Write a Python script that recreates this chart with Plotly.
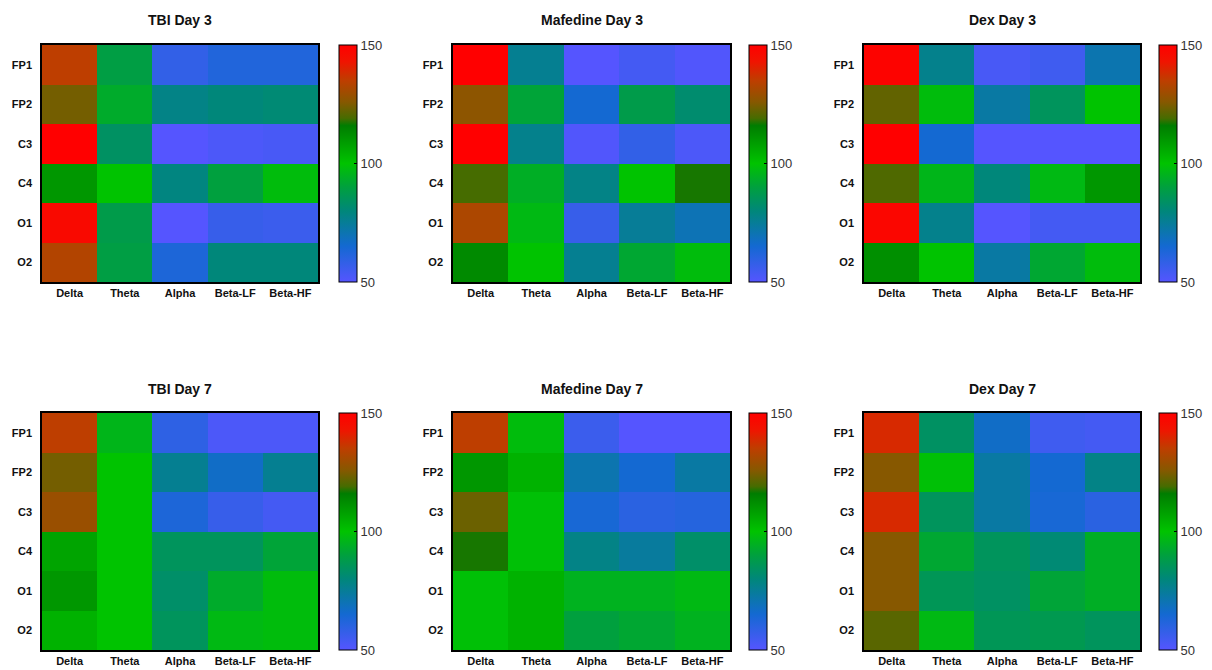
import plotly.graph_objects as go

bands = ["Delta", "Theta", "Alpha", "Beta-LF", "Beta-HF"]
channels = ["FP1", "FP2", "C3", "C4", "O1", "O2"]

titles = ["TBI Day 3", "Mafedine Day 3", "Dex Day 3",
          "TBI Day 7", "Mafedine Day 7", "Dex Day 7"]

tbi_day3 = [
    [135, 89, 58, 62, 62],
    [124, 93, 78, 80, 81],
    [150, 84, 50, 52, 53],
    [110, 100, 79, 90, 98],
    [147, 88, 50, 57, 56],
    [133, 89, 63, 80, 80],
]
mafedine_day3 = [
    [150, 76, 50, 54, 51],
    [127, 91, 65, 88, 82],
    [150, 77, 51, 58, 52],
    [119, 94, 78, 100, 117],
    [132, 97, 57, 75, 70],
    [113, 100, 76, 92, 98],
]
dex_day3 = [
    [149, 77, 53, 55, 71],
    [122, 98, 73, 85, 100],
    [150, 65, 50, 50, 50],
    [120, 96, 80, 97, 110],
    [148, 77, 50, 54, 54],
    [112, 100, 73, 92, 98],
]
tbi_day7 = [
    [135, 96, 59, 52, 52],
    [124, 100, 76, 67, 76],
    [129, 100, 63, 57, 54],
    [107, 100, 85, 85, 91],
    [110, 100, 83, 93, 98],
    [104, 100, 85, 97, 98],
]
mafedine_day7 = [
    [135, 98, 56, 50, 50],
    [110, 104, 71, 65, 73],
    [123, 99, 64, 60, 61],
    [117, 99, 78, 74, 83],
    [99, 104, 95, 95, 97],
    [99, 104, 90, 92, 95],
]
dex_day7 = [
    [139, 84, 67, 55, 54],
    [126, 99, 73, 65, 78],
    [139, 85, 73, 64, 60],
    [126, 92, 85, 81, 94],
    [126, 86, 84, 91, 94],
    [121, 97, 86, 87, 85],
]

panels = [tbi_day3, mafedine_day3, dex_day3, tbi_day7, mafedine_day7, dex_day7]

colorscale = [
    [0.00, "rgb(85,85,255)"],
    [0.15, "rgb(20,105,210)"],
    [0.30, "rgb(0,135,122)"],
    [0.40, "rgb(0,160,62)"],
    [0.50, "rgb(0,195,0)"],
    [0.66, "rgb(0,125,0)"],
    [0.69, "rgb(70,108,0)"],
    [0.76, "rgb(135,88,0)"],
    [0.85, "rgb(190,62,0)"],
    [0.93, "rgb(240,20,0)"],
    [1.00, "rgb(255,0,0)"],
]

W, H = 1212, 670
cols_px = [(42, 318, 339), (453, 730, 749), (864, 1140, 1159)]
rows_px = [(45, 282, 20), (413, 650, 389)]

fig = go.Figure()
axis_font = dict(family="Liberation Sans, Arial", size=11, color="#111111")

for i, (name, z) in enumerate(zip(titles, panels)):
    r, c = divmod(i, 3)
    x0, x1, cbx = cols_px[c]
    y0, y1, ty = rows_px[r]
    idx = "" if i == 0 else str(i + 1)
    fig.add_trace(go.Heatmap(
        z=z, x=bands, y=channels,
        zmin=50, zmax=150,
        colorscale=colorscale,
        xaxis="x" + idx, yaxis="y" + idx,
        xgap=0, ygap=0,
        colorbar=dict(
            x=cbx / W, xanchor="left", xref="paper",
            y=1 - y0 / H, yanchor="top", yref="paper",
            len=(y1 - y0) / H, lenmode="fraction",
            thickness=18, xpad=0, ypad=0,
            outlinecolor="black", outlinewidth=1,
            tickvals=[50, 100, 150], ticks="inside", ticklen=3,
            tickcolor="black",
            tickfont=dict(family="Liberation Sans, Arial", size=13, color="#333333"),
        ),
    ))
    fig.layout["xaxis" + idx] = dict(
        domain=[x0 / W, x1 / W], anchor="y" + idx,
        showline=True, mirror=True, linecolor="black", linewidth=1.5,
        ticks="", tickfont=axis_font, showgrid=False, zeroline=False,
        tickprefix="<b>", ticksuffix="</b>", fixedrange=True,
    )
    fig.layout["yaxis" + idx] = dict(
        domain=[1 - y1 / H, 1 - y0 / H], anchor="x" + idx,
        autorange="reversed",
        showline=True, mirror=True, linecolor="black", linewidth=1.5,
        ticks="", tickfont=axis_font, showgrid=False, zeroline=False,
        tickprefix="<b>", ticksuffix="</b>", ticklabelstandoff=6, fixedrange=True,
    )
    fig.add_annotation(
        text="<b>" + name + "</b>", xref="paper", yref="paper",
        x=(x0 + x1) / 2 / W, y=1 - ty / H, xanchor="center", yanchor="middle",
        showarrow=False,
        font=dict(family="Liberation Sans, Arial", size=14, color="#111111"),
    )

fig.update_layout(
    width=W, height=H,
    margin=dict(l=0, r=0, t=0, b=0),
    paper_bgcolor="white", plot_bgcolor="white",
    showlegend=False,
)

fig.write_html(
    "out.html",
    config={"displayModeBar": False},
    post_script="document.body.style.margin='0';document.body.style.overflow='hidden';",
)
